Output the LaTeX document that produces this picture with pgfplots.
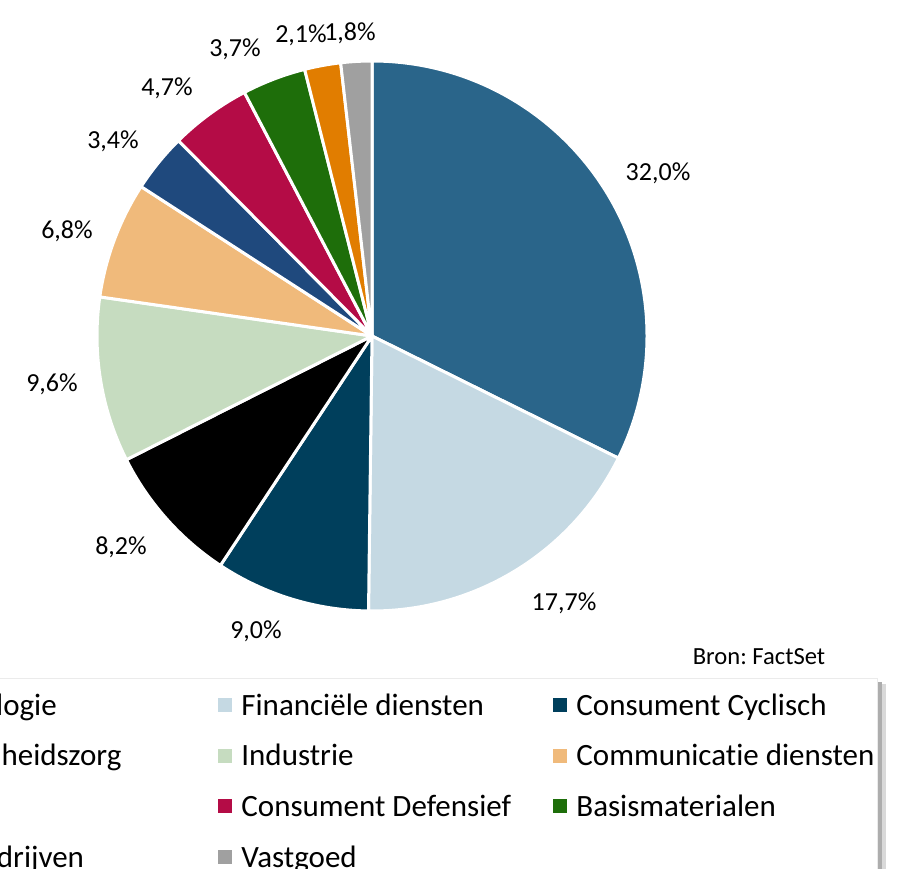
\documentclass[border=0pt]{standalone}
\usepackage{pgfplots}
\pgfplotsset{compat=1.18}
\usepackage{pgfplotstable}
\usepackage{fontspec}
\setmainfont{Carlito}[Ligatures={NoCommon,NoRare,NoContextual}]
\frenchspacing

\definecolor{cTech}{RGB}{42,101,138}
\definecolor{cFin}{RGB}{197,217,227}
\definecolor{cCC}{RGB}{0,63,92}
\definecolor{cGez}{RGB}{0,0,0}
\definecolor{cInd}{RGB}{198,220,192}
\definecolor{cCom}{RGB}{240,186,123}
\definecolor{cEn}{RGB}{31,73,125}
\definecolor{cCD}{RGB}{180,12,70}
\definecolor{cBas}{RGB}{30,110,10}
\definecolor{cNut}{RGB}{225,125,0}
\definecolor{cVas}{RGB}{160,160,160}

\newcommand\lblfont{\fontsize{13}{15}\selectfont}
\newcommand\legfont{\fontsize{15.5}{18}\selectfont}
\newcommand\srcfont{\fontsize{12.3}{14}\selectfont}

% sector; share (%); colour; label position (px in picture)
\pgfplotstableread[col sep=semicolon]{
name;value;color;lx;ly
Technologie;32.0;cTech;658;173
Financiële diensten;17.7;cFin;564;603
Consument Cyclisch;9.0;cCC;256;631
Gezondheidszorg;8.2;cGez;121;547
Industrie;9.6;cInd;52;384
Communicatie diensten;6.8;cCom;67;231
Energie;3.4;cEn;113;141
Consument Defensief;4.7;cCD;167;88
Basismaterialen;3.7;cBas;235;49
Nutsbedrijven;2.1;cNut;301;35
Vastgoed;1.8;cVas;350;33
}\piedata

\begin{document}
\begin{tikzpicture}
\useasboundingbox (0,0) rectangle (454.5pt,434pt);
\clip (0,0) rectangle (454.5pt,434pt);
\begin{axis}[at={(0,0)},anchor=south west,
  x=0.5pt,y=0.5pt,xmin=0,xmax=909,ymin=0,ymax=868,
  y dir=reverse,hide axis,clip=false,enlargelimits=false,scale only axis]
% legend box with shadow
\fill[black!15] (axis cs:-130,684) rectangle (axis cs:886,900);
\fill[black!32] (axis cs:-130,682) rectangle (axis cs:882,900);
\filldraw[fill=white,draw=black!8,line width=0.5pt] (axis cs:-140,678) rectangle (axis cs:877,900);
\node[font=\srcfont,inner sep=0pt] at (axis cs:759,657) {Bron: FactSet};
\pgfplotstablegetrowsof{\piedata}
\pgfmathtruncatemacro\N{\pgfplotsretval-1}
\def\total{0}
\pgfplotsforeachungrouped \i in {0,...,\N}{%
  \pgfplotstablegetelem{\i}{value}\of\piedata
  \pgfmathsetmacro\total{\total+\pgfplotsretval}}
\def\cum{0}
\pgfplotsforeachungrouped \i in {0,...,\N}{%
  \pgfplotstablegetelem{\i}{value}\of\piedata \let\v\pgfplotsretval
  \pgfplotstablegetelem{\i}{color}\of\piedata \let\c\pgfplotsretval
  \pgfplotstablegetelem{\i}{lx}\of\piedata \let\lx\pgfplotsretval
  \pgfplotstablegetelem{\i}{ly}\of\piedata \let\ly\pgfplotsretval
  \pgfplotstablegetelem{\i}{name}\of\piedata \let\nm\pgfplotsretval
  \pgfmathsetmacro\fa{\cum/\total}%
  \pgfmathsetmacro\cum{\cum+\v}%
  \pgfmathsetmacro\fb{\cum/\total}%
  \pgfmathsetmacro\a{90-360*\fa}%
  \pgfmathsetmacro\b{90-360*\fb}%
  \pgfmathtruncatemacro\col{mod(\i,3)}%
  \pgfmathtruncatemacro\row{floor(\i/3)}%
  \pgfmathsetmacro\mx{-117+335*\col}%
  \pgfmathsetmacro\my{705+50.67*\row}%
  \pgfmathsetmacro\tx{\mx+23}%
  \pgfmathsetmacro\ty{\my+10}%
  \edef\temp{%
    \noexpand\filldraw[fill=\c,draw=white,line width=1.5pt,line join=round]
      (axis cs:372,336) -- ++(\a:137.5pt) arc[start angle=\a,end angle=\b,radius=137.5pt] -- cycle;
    \noexpand\node[font=\noexpand\lblfont,inner sep=0pt] at (axis cs:\lx,\ly)
      {\noexpand\pgfmathprintnumber[fixed,fixed zerofill,precision=1,use comma,assume math mode=true]{\v}\noexpand\%};
    \noexpand\fill[\c] (axis cs:\mx,\my) ++(0,-3.5pt) rectangle ++(7pt,7pt);
    \noexpand\node[anchor=base west,inner sep=0pt,font=\noexpand\legfont] at (axis cs:\tx,\ty) {\nm};
  }\temp
}
\end{axis}
\end{tikzpicture}
\end{document}
